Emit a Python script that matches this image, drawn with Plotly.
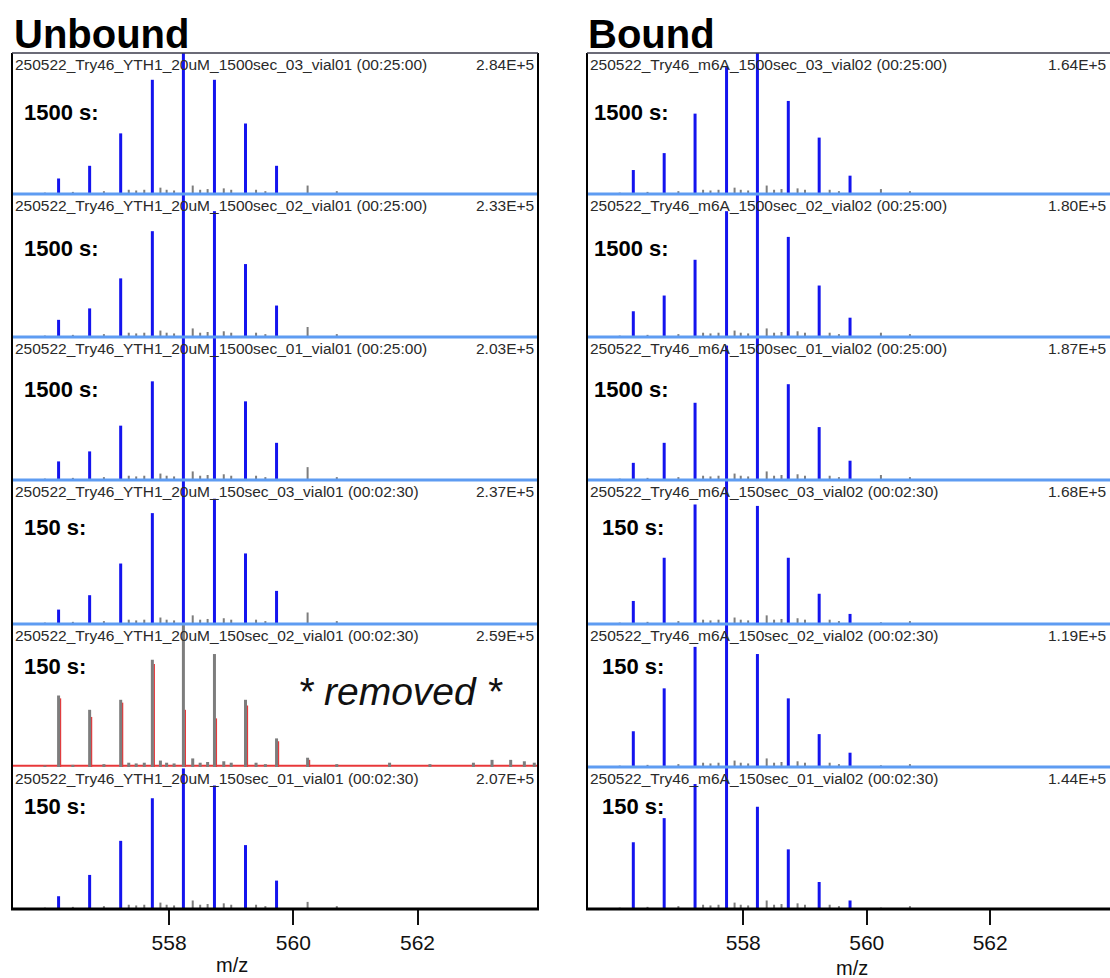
import plotly.graph_objects as go

W, H = 1110, 978

# ---------------- data ----------------
MZ = [556.22, 556.72, 557.22, 557.73, 558.23, 558.73, 559.23, 559.73]
MZ_GRAY = 560.23
X_RANGE = [555.47, 563.94]
TICKS = [558, 560, 562]

left_headers = [
    "250522_Try46_YTH1_20uM_1500sec_03_vial01 (00:25:00)",
    "250522_Try46_YTH1_20uM_1500sec_02_vial01 (00:25:00)",
    "250522_Try46_YTH1_20uM_1500sec_01_vial01 (00:25:00)",
    "250522_Try46_YTH1_20uM_150sec_03_vial01 (00:02:30)",
    "250522_Try46_YTH1_20uM_150sec_02_vial01 (00:02:30)",
    "250522_Try46_YTH1_20uM_150sec_01_vial01 (00:02:30)",
]
left_scales = ["2.84E+5", "2.33E+5", "2.03E+5", "2.37E+5", "2.59E+5", "2.07E+5"]
right_headers = [
    "250522_Try46_m6A_1500sec_03_vial02 (00:25:00)",
    "250522_Try46_m6A_1500sec_02_vial02 (00:25:00)",
    "250522_Try46_m6A_1500sec_01_vial02 (00:25:00)",
    "250522_Try46_m6A_150sec_03_vial02 (00:02:30)",
    "250522_Try46_m6A_150sec_02_vial02 (00:02:30)",
    "250522_Try46_m6A_150sec_01_vial02 (00:02:30)",
]
right_scales = ["1.64E+5", "1.80E+5", "1.87E+5", "1.68E+5", "1.19E+5", "1.44E+5"]
time_labels = ["1500 s:", "1500 s:", "1500 s:", "150 s:", "150 s:", "150 s:"]

# relative intensities (fraction of panel height) of the main isotope peaks
left_peaks = [
    [0.11, 0.20, 0.43, 0.81, 1.05, 0.81, 0.50, 0.20],
    [0.12, 0.20, 0.41, 0.74, 1.05, 0.88, 0.51, 0.22],
    [0.13, 0.20, 0.38, 0.69, 1.05, 1.05, 0.55, 0.26],
    [0.10, 0.20, 0.42, 0.77, 1.05, 0.87, 0.49, 0.23],
    None,
    [0.09, 0.24, 0.48, 0.78, 0.99, 0.87, 0.45, 0.20],
]
left_gray560 = [0.06, 0.07, 0.09, 0.08, 0.065, 0.05]
right_peaks = [
    [0.17, 0.29, 0.57, 0.90, 1.05, 0.66, 0.40, 0.13],
    [0.18, 0.29, 0.54, 0.88, 1.05, 0.70, 0.36, 0.135],
    [0.12, 0.26, 0.54, 0.94, 1.05, 0.67, 0.37, 0.135],
    [0.16, 0.46, 0.83, 1.05, 0.82, 0.46, 0.21, 0.07],
    [0.25, 0.55, 0.84, 1.05, 0.79, 0.48, 0.23, 0.10],
    [0.47, 0.64, 0.88, 1.05, 0.72, 0.42, 0.19, 0.06],
]
right_gray560 = [0.035, 0.03, 0.035, 0.012, 0.012, 0.01]

# removed panel (unbound, 150sec_02): grey + red traces
removed_gray = [0.50, 0.40, 0.47, 0.75, 1.00, 0.79, 0.47, 0.20, 0.065]
removed_red = [0.48, 0.35, 0.45, 0.72, 0.40, 0.34, 0.43, 0.18, 0.05]
removed_tail_mz = [561.55, 562.2, 562.9, 563.2, 563.5, 563.72, 563.88]
removed_tail_h = [0.03, 0.02, 0.03, 0.05, 0.05, 0.04, 0.03]

# small grey background peaks
noise_mz = [556.0, 556.45, 556.95, 557.35, 557.47, 557.6, 557.86, 557.96, 558.08,
            558.38, 558.5, 558.62, 558.88, 559.0, 559.4, 559.55, 560.7]
noise_h = [0.01, 0.015, 0.02, 0.03, 0.025, 0.03, 0.045, 0.03, 0.025,
           0.06, 0.03, 0.035, 0.04, 0.03, 0.03, 0.02, 0.02]

# ---------------- layout geometry (pixels) ----------------
PANEL_TOP = [53, 194, 337, 480, 624, 767]
PANEL_BASE = [194, 337, 480, 624, 767, 909]
LABEL_Y = [113, 249, 390, 527, 666, 806]
COL_X = [(12, 538), (587, 1110)]
LABEL_X = {"1500 s:": [22, 592], "150 s:": [22, 600]}

BLUE = "#1414ee"
LIGHT_BLUE = "#5e9cf2"
GRAY = "#7d7d7d"
RED = "#e8383a"
FONT = "Liberation Sans, Arial, sans-serif"


def px(x):
    return x / W


def py(y):
    return 1 - y / H


def sticks(mz, h, dx=0.0):
    xs, ys = [], []
    for m, v in zip(mz, h):
        xs += [m + dx, m + dx, None]
        ys += [0, v, None]
    return xs, ys


fig = go.Figure()
shapes = []
annotations = []
layout_axes = {}

for col in range(2):
    x0, x1 = COL_X[col]
    headers = left_headers if col == 0 else right_headers
    scales = left_scales if col == 0 else right_scales
    peaks = left_peaks if col == 0 else right_peaks
    gray560 = left_gray560 if col == 0 else right_gray560
    for row in range(6):
        idx = col * 6 + row + 1
        xa = "x" if idx == 1 else f"x{idx}"
        ya = "y" if idx == 1 else f"y{idx}"
        top, base = PANEL_TOP[row], PANEL_BASE[row]
        last = row == 5
        pad = 0 if last else 2
        hgt = base - top
        ymin = -pad / hgt
        layout_axes["xaxis" if idx == 1 else f"xaxis{idx}"] = dict(
            domain=[px(x0), px(x1)], range=X_RANGE, anchor=ya,
            showgrid=False, zeroline=False, showline=False,
            showticklabels=last, ticks="outside" if last else "",
            tickvals=TICKS, ticklen=15, tickwidth=1.5, tickcolor="#111",
            tickfont=dict(family=FONT, size=21, color="#111"),
        )
        layout_axes["yaxis" if idx == 1 else f"yaxis{idx}"] = dict(
            domain=[py(base + pad), py(top)], range=[ymin, 1.0], anchor=xa,
            visible=False, fixedrange=True,
        )

        removed = col == 0 and peaks[row] is None
        if removed:
            rx, ry = sticks(MZ + [MZ_GRAY], removed_red, dx=0.03)
            fig.add_trace(go.Scatter(x=rx, y=ry, mode="lines", xaxis=xa, yaxis=ya,
                                     line=dict(color=RED, width=1.5), hoverinfo="skip"))
            shapes.append(dict(type="line", xref=f"{xa} domain", yref=ya,
                               x0=0, x1=1, y0=0.008, y1=0.008, layer="below",
                               line=dict(color=RED, width=2)))
            gx, gy = sticks(MZ + [MZ_GRAY] + noise_mz + removed_tail_mz,
                            removed_gray + noise_h + removed_tail_h)
            fig.add_trace(go.Scatter(x=gx, y=gy, mode="lines", xaxis=xa, yaxis=ya,
                                     line=dict(color=GRAY, width=3), hoverinfo="skip"))
            annotations.append(dict(text="<i>* removed *</i>", xref="paper", yref="paper",
                                    x=px(401), y=py(691), xanchor="center", yanchor="middle",
                                    showarrow=False,
                                    font=dict(family=FONT, size=39, color="#111")))
        else:
            gx, gy = sticks(noise_mz + [MZ_GRAY], noise_h + [gray560[row]])
            fig.add_trace(go.Scatter(x=gx, y=gy, mode="lines", xaxis=xa, yaxis=ya,
                                     line=dict(color=GRAY, width=2), hoverinfo="skip"))
            bx, by = sticks(MZ, peaks[row])
            fig.add_trace(go.Scatter(x=bx, y=by, mode="lines", xaxis=xa, yaxis=ya,
                                     line=dict(color=BLUE, width=3), hoverinfo="skip"))
            if not last:
                shapes.append(dict(type="line", xref=f"{xa} domain", yref=ya,
                                   x0=0, x1=1, y0=0, y1=0,
                                   line=dict(color=LIGHT_BLUE, width=3)))

        # header texts
        annotations.append(dict(text=headers[row], xref="paper", yref="paper",
                                x=px(x0 + 1), y=py(top + 1), xanchor="left", yanchor="top",
                                showarrow=False,
                                font=dict(family=FONT, size=15.5, color="#2a2a2a")))
        annotations.append(dict(text=scales[row], xref="paper", yref="paper",
                                x=px(x1 - 2), y=py(top + 1), xanchor="right", yanchor="top",
                                showarrow=False,
                                font=dict(family=FONT, size=15.5, color="#2a2a2a")))
        lab = time_labels[row]
        annotations.append(dict(text=f"<b>{lab}</b>", xref="paper", yref="paper",
                                x=px(LABEL_X[lab][col]), y=py(LABEL_Y[row]),
                                xanchor="left", yanchor="middle", showarrow=False,
                                font=dict(family=FONT, size=22, color="#000")))

    # frame
    shapes.append(dict(type="line", xref="paper", yref="paper", x0=px(x0), x1=px(x0),
                       y0=py(PANEL_TOP[0]), y1=py(PANEL_BASE[-1]),
                       line=dict(color="#000", width=2)))
    if col == 0:
        shapes.append(dict(type="line", xref="paper", yref="paper", x0=px(x1), x1=px(x1),
                           y0=py(PANEL_TOP[0]), y1=py(PANEL_BASE[-1]),
                           line=dict(color="#000", width=2)))
    shapes.append(dict(type="line", xref="paper", yref="paper", x0=px(x0), x1=px(x1),
                       y0=py(PANEL_TOP[0]), y1=py(PANEL_TOP[0]),
                       line=dict(color="#3a3a4a", width=1.5)))
    shapes.append(dict(type="line", xref="paper", yref="paper", x0=px(x0 - 1), x1=px(x1 + 1),
                       y0=py(PANEL_BASE[-1]), y1=py(PANEL_BASE[-1]),
                       line=dict(color="#000", width=3)))

# column titles and axis labels
for title, xx in [("Unbound", 12), ("Bound", 586)]:
    annotations.append(dict(text=f"<b>{title}</b>", xref="paper", yref="paper",
                            x=px(xx), y=py(58), xanchor="left", yanchor="bottom",
                            showarrow=False, font=dict(family=FONT, size=40, color="#000")))
for xx, yy in [(232, 965), (852, 968)]:
    annotations.append(dict(text="m/z", xref="paper", yref="paper",
                            x=px(xx), y=py(yy), xanchor="center", yanchor="middle",
                            showarrow=False, font=dict(family=FONT, size=20, color="#111")))

fig.update_layout(
    width=W, height=H, margin=dict(l=0, r=0, t=0, b=0),
    paper_bgcolor="white", plot_bgcolor="white", showlegend=False,
    shapes=shapes, annotations=annotations, **layout_axes,
)

fig.write_html(
    "out.html",
    config={"displayModeBar": False},
    post_script="document.body.style.margin='0';document.body.style.overflow='hidden';",
)
